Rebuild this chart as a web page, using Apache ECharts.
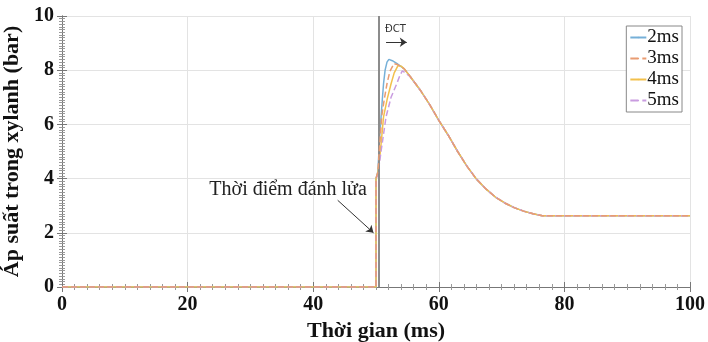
<!DOCTYPE html>
<html>
<head>
<meta charset="utf-8">
<script src="https://cdn.jsdelivr.net/npm/echarts@6/dist/echarts.min.js"></script>
<style>
html,body{margin:0;padding:0;background:#fff;}
#chart{width:708px;height:342px;}
</style>
</head>
<body>
<div id="chart"></div>
<script>
// ---- data ----
const seriesNames = ['2ms', '3ms', '4ms', '5ms'];
const xTicks = [0, 20, 40, 60, 80, 100];
const yTicks = [0, 2, 4, 6, 8, 10];

// shared part before ignition
const tBase = [0, 50, 50];
const pBase = [0, 0, 4];

// individual rise to peak
const t2ms = [50.3, 50.6, 51.0, 51.2, 51.45, 51.75, 52.05, 52.6, 53.3, 54.5];
const p2ms = [4.25, 5.6, 6.9, 7.5, 8.0, 8.3, 8.4, 8.35, 8.25, 8.05];
const t3ms = [50.3, 50.9, 51.3, 51.75, 52.2, 52.85, 53.5, 54.5];
const p3ms = [4.25, 6.28, 6.9, 7.5, 7.95, 8.24, 8.2, 8.05];
const t4ms = [50.3, 50.7, 51.2, 51.8, 52.4, 52.9, 53.5, 54.0, 54.5];
const p4ms = [4.2, 5.0, 6.28, 6.95, 7.5, 7.9, 8.17, 8.15, 8.05];
const t5ms = [50.3, 50.8, 51.6, 52.4, 53.3, 53.8, 54.2, 54.5];
const p5ms = [4.15, 5.0, 6.28, 7.0, 7.5, 7.8, 7.98, 8.05];

// shared expansion / tail
const tTail = [55.5, 57, 58.5, 60, 61.5, 63, 64.5, 66, 67.5, 69, 70.5, 72, 73.5, 75, 76.5, 100];
const pTail = [7.75, 7.28, 6.75, 6.15, 5.6, 5.0, 4.45, 3.98, 3.62, 3.32, 3.1, 2.93, 2.8, 2.7, 2.63, 2.63];

// annotations (data coordinates)
const tdcLineX = 50.4;
const ignitionText = 'Thời điểm đánh lửa';
const ignitionTextAt = [36.0, 3.6];
const ignitionArrow = [[43.9, 3.2], [49.6, 2.0]];
const tdcText = 'ĐCT';
const tdcTextAt = [53.1, 9.5];
const tdcArrow = [[51.6, 9.03], [54.9, 9.03]];

const colors = ['#76b0d8', '#e99c72', '#f2c04c', '#c99ce0'];
const lineTypes = ['solid', 'dashed', 'solid', 'dashed'];

function buildPairs(t, p) {
  const all_t = tBase.concat(t, tTail);
  const all_p = pBase.concat(p, pTail);
  return all_t.map((x, i) => [x, all_p[i]]);
}
const pieces = [[t2ms, p2ms], [t3ms, p3ms], [t4ms, p4ms], [t5ms, p5ms]];

const serif = 'Liberation Serif';
const chart = echarts.init(document.getElementById('chart'), null, {renderer: 'canvas'});

const series = seriesNames.map((name, i) => ({
  name: name,
  type: 'line',
  data: buildPairs(pieces[i][0], pieces[i][1]),
  showSymbol: false,
  symbol: 'none',
  z: [2, 5, 3, 4][i],
  lineStyle: {color: colors[i], width: 1.5, type: lineTypes[i]},
  itemStyle: {color: colors[i]},
  animation: false
}));

series[0].markLine = {
  silent: true, symbol: 'none', animation: false,
  label: {show: false},
  lineStyle: {color: '#8c8c8c', width: 2, type: 'solid'},
  data: [{xAxis: tdcLineX}]
};
series[2].markLine = {
  silent: true, animation: false,
  label: {show: false},
  symbolSize: 7,
  lineStyle: {color: '#333', width: 1, type: 'solid'},
  data: [
    [{coord: ignitionArrow[0], symbol: 'none'}, {coord: ignitionArrow[1], symbol: 'arrow'}],
    [{coord: tdcArrow[0], symbol: 'none'}, {coord: tdcArrow[1], symbol: 'arrow'}]
  ]
};
series[2].markPoint = {
  silent: true, animation: false,
  symbol: 'circle', symbolSize: 0,
  data: [
    {coord: ignitionTextAt, label: {show: true, position: 'inside', formatter: ignitionText,
      fontFamily: serif, fontSize: 20, color: '#222'}},
    {coord: tdcTextAt, label: {show: true, position: 'inside', formatter: tdcText,
      fontFamily: 'DejaVu Sans', fontSize: 10, color: '#333'}}
  ]
};

const axisLineStyle = {show: true, lineStyle: {color: '#777', width: 1}};
const xCommon = {
  type: 'value', min: 0, max: 100, interval: 20,
  axisTick: {show: true, inside: true, length: 5, lineStyle: {color: '#777'}},
  minorTick: {show: true, splitNumber: 10, length: 3, lineStyle: {color: '#999'}},
  axisLine: axisLineStyle
};
const yCommon = {
  type: 'value', min: 0, max: 10, interval: 2,
  axisTick: {show: true, inside: true, length: 5, lineStyle: {color: '#777'}},
  minorTick: {show: true, splitNumber: 20, length: 3, lineStyle: {color: '#999'}},
  axisLine: axisLineStyle
};

chart.setOption({
  animation: false,
  backgroundColor: '#fff',
  grid: {left: 62, right: 18, top: 16, bottom: 55, containLabel: false, outerBoundsMode: 'none'},
  legend: {
    data: seriesNames,
    orient: 'vertical',
    right: 26, top: 26,
    itemWidth: 16, itemHeight: 2, itemGap: 2,
    padding: [2, 3, 2, 3],
    borderColor: '#888', borderWidth: 1, backgroundColor: '#fff',
    textStyle: {fontFamily: serif, fontSize: 19, color: '#111', padding: [0, 0, 0, -4]}
  },
  xAxis: [
    Object.assign({}, xCommon, {
      position: 'bottom',
      name: 'Thời gian (ms)', nameLocation: 'middle', nameGap: 29,
      nameTextStyle: {fontFamily: serif, fontSize: 22, fontWeight: 'bold', color: '#111'},
      axisLabel: {fontFamily: serif, fontSize: 20, fontWeight: 'bold', color: '#111', margin: 8,
        formatter: v => xTicks.includes(v) ? String(v) : ''},
      splitLine: {show: true, lineStyle: {color: '#e3e3e3'}}
    }),
    Object.assign({}, xCommon, {
      position: 'top', axisLabel: {show: false}, splitLine: {show: false}
    })
  ],
  yAxis: [
    Object.assign({}, yCommon, {
      position: 'left',
      name: 'Áp suất trong xylanh (bar)', nameLocation: 'middle', nameGap: 31,
      nameTextStyle: {fontFamily: serif, fontSize: 22, fontWeight: 'bold', color: '#111'},
      axisLabel: {fontFamily: serif, fontSize: 20, fontWeight: 'bold', color: '#111', margin: 8,
        formatter: v => yTicks.includes(v) ? String(v) : ''},
      splitLine: {show: true, lineStyle: {color: '#e3e3e3'}}
    }),
    Object.assign({}, yCommon, {
      position: 'right', axisLabel: {show: false}, splitLine: {show: false}
    })
  ],
  series: series
});
</script>
</body>
</html>
